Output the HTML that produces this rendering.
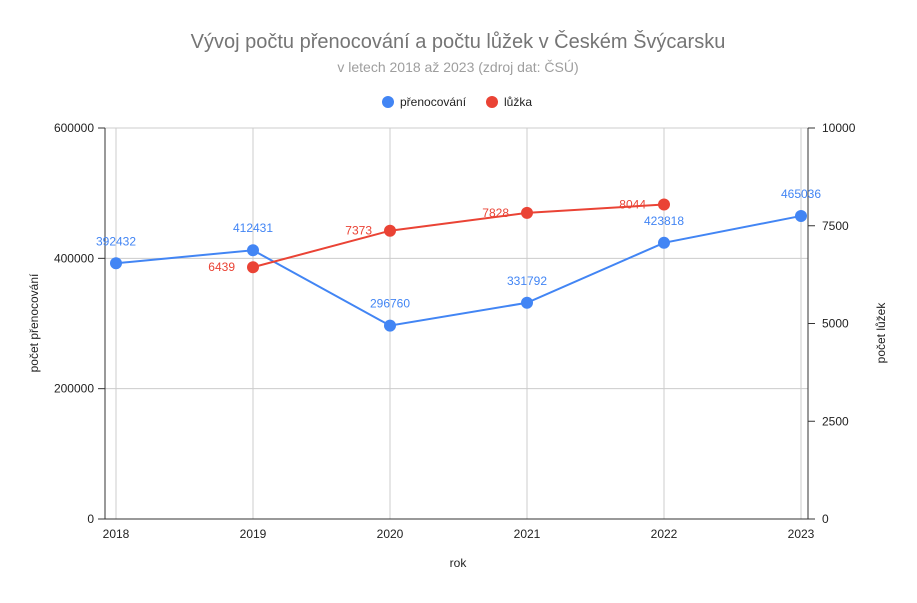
<!DOCTYPE html>
<html><head><meta charset="utf-8"><style>
body{margin:0;background:#fff;font-family:"Liberation Sans",Roboto,sans-serif}
svg text{font-family:"Liberation Sans",sans-serif}
</style></head><body>
<svg id="c" width="917" height="598">
<text x="458" y="48" text-anchor="middle" font-size="20" fill="#757575">Vývoj počtu přenocování a počtu lůžek v Českém Švýcarsku</text>
<text x="458" y="72" text-anchor="middle" font-size="14" fill="#9e9e9e">v letech 2018 až 2023 (zdroj dat: ČSÚ)</text>
<g>
<g><circle cx="388" cy="102" r="6" fill="#4285f4"/><text x="400" y="106" font-size="12" fill="#222">přenocování</text></g>
<g><circle cx="492" cy="102" r="6" fill="#ea4335"/><text x="504" y="106" font-size="12" fill="#222">lůžka</text></g>
</g>
<g id="grid"></g>
<g id="axes"></g>
<g id="series"></g>
<text x="458" y="567" text-anchor="middle" font-size="12" fill="#222">rok</text>
<text transform="translate(38,323) rotate(-90)" text-anchor="middle" font-size="12" fill="#222">počet přenocování</text>
<text transform="translate(885,333) rotate(-90)" text-anchor="middle" font-size="12" fill="#222">počet lůžek</text>
</svg>
<script>
const years=["2018","2019","2020","2021","2022","2023"];
const nights=[392432,412431,296760,331792,423818,465036];
const beds=[null,6439,7373,7828,8044,null];
const leftTicks=[0,200000,400000,600000];
const rightTicks=[0,2500,5000,7500,10000];
const NS="http://www.w3.org/2000/svg";
const L=105,R=808,T=128,B=519;
const x=i=>116+i*(801-116)/(years.length-1);
const yl=v=>B-v/600000*(B-T);
const yr=v=>B-v/10000*(B-T);
function mk(p,tag,a,txt){const e=document.createElementNS(NS,tag);for(const k in a)e.setAttribute(k,a[k]);if(txt!=null)e.textContent=txt;document.getElementById(p).appendChild(e);return e;}
leftTicks.forEach(v=>{
 const g=mk('grid','line',{x1:L,x2:R,y1:yl(v),y2:yl(v),stroke:'#ccc'});
 
 
 const t=mk('axes','text',{x:94,y:yl(v)+4,'text-anchor':'end','font-size':12,fill:'#222'},String(v));
 
 
 mk('axes','line',{x1:98,x2:L,y1:yl(v),y2:yl(v),stroke:'#333'});
});
rightTicks.forEach(v=>{
 const t=mk('axes','text',{x:822,y:yr(v)+4,'font-size':12,fill:'#222'},String(v));
 
 
 mk('axes','line',{x1:R,x2:815,y1:yr(v),y2:yr(v),stroke:'#333'});
});
years.forEach((y,i)=>{
 const g=mk('grid','line',{x1:x(i),x2:x(i),y1:T,y2:B,stroke:'#ccc'});
 
 
 const t=mk('axes','text',{x:x(i),y:538,'text-anchor':'middle','font-size':12,fill:'#222'},y);
 
 
});
mk('axes','line',{x1:L,x2:L,y1:T,y2:B,stroke:'#333'});
mk('axes','line',{x1:R,x2:R,y1:T,y2:B,stroke:'#333'});
mk('axes','line',{x1:L,x2:R,y1:B,y2:B,stroke:'#333'});
const lp=nights.map((v,i)=>x(i)+','+yl(v)).join(' ');
const ln=mk('series','polyline',{points:lp,fill:'none',stroke:'#4285f4','stroke-width':2});


const rp=beds.map((v,i)=>v==null?null:x(i)+','+yr(v)).filter(Boolean).join(' ');
const ln2=mk('series','polyline',{points:rp,fill:'none',stroke:'#ea4335','stroke-width':2});


nights.forEach((v,i)=>{
 const c=mk('series','circle',{cx:x(i),cy:yl(v),r:6,fill:'#4285f4'});
 
 
 const t=mk('series','text',{x:x(i),y:yl(v)-18,'text-anchor':'middle','font-size':12,fill:'#4285f4'},String(v));
 
 
});
beds.forEach((v,i)=>{
 if(v==null)return;
 const c=mk('series','circle',{cx:x(i),cy:yr(v),r:6,fill:'#ea4335'});
 
 
 const t=mk('series','text',{x:x(i)-18,y:yr(v)+4,'text-anchor':'end','font-size':12,fill:'#ea4335'},String(v));
 
 
});
</script>
</body></html>
